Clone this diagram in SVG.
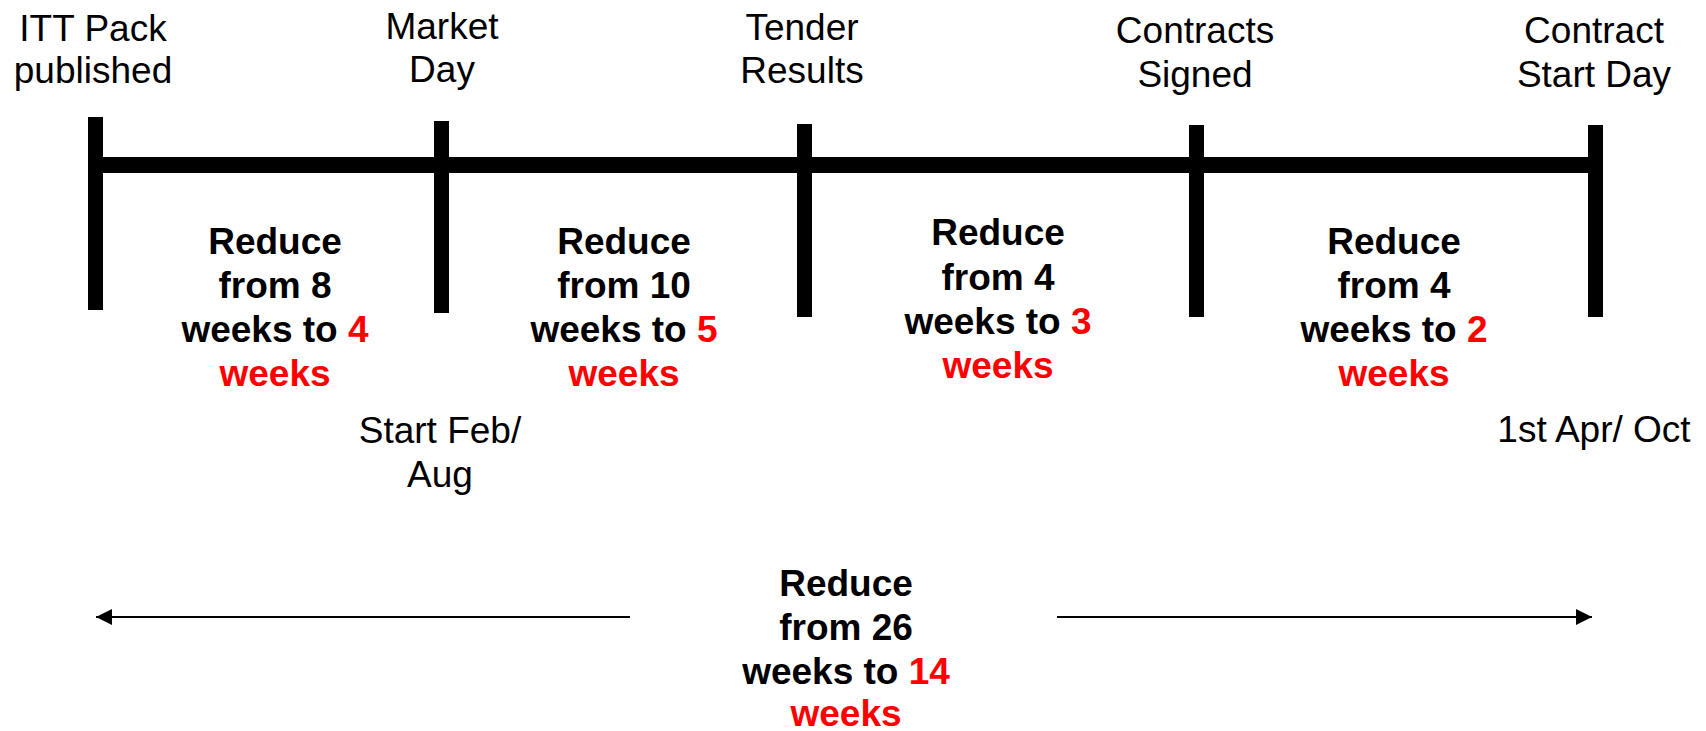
<svg xmlns="http://www.w3.org/2000/svg" width="1706" height="731" viewBox="0 0 1706 731">
<style>
.lbl{font-family:"Liberation Sans",Arial,sans-serif;font-size:37px;fill:#000;text-anchor:middle}
.b{font-family:"Liberation Sans",Arial,sans-serif;font-size:37px;font-weight:bold;fill:#000;text-anchor:middle}
.r{fill:#FF0000}
.bar{fill:#000}
.conn{stroke:#000;stroke-width:2;fill:none}
</style>
<defs>
<marker id="ah" viewBox="0 0 10 10" refX="10" refY="5" markerWidth="8" markerHeight="8" markerUnits="strokeWidth" orient="auto">
<path d="M0,0 L10,5 L0,10 z" fill="#000"/>
</marker>
</defs>
<rect width="1706" height="731" fill="#fff"/>
<g id="timeline">
<rect class="bar" x="88" y="157" width="1515" height="16"/>
</g>
<g id="node-itt">
<rect class="bar" x="88" y="117" width="15" height="193"/>
<text class="lbl" x="93" y="41">ITT Pack</text>
<text class="lbl" x="93" y="83">published</text>
</g>
<g id="node-market">
<rect class="bar" x="434" y="121" width="15" height="192"/>
<text class="lbl" x="442" y="39">Market</text>
<text class="lbl" x="442" y="82">Day</text>
<text class="lbl" x="440" y="443">Start Feb/</text>
<text class="lbl" x="440" y="487">Aug</text>
</g>
<g id="node-tender">
<rect class="bar" x="797" y="124" width="15" height="193"/>
<text class="lbl" x="802" y="40">Tender</text>
<text class="lbl" x="802" y="83">Results</text>
</g>
<g id="node-contracts">
<rect class="bar" x="1189" y="125" width="15" height="192"/>
<text class="lbl" x="1195" y="43">Contracts</text>
<text class="lbl" x="1195" y="87">Signed</text>
</g>
<g id="node-start">
<rect class="bar" x="1588" y="125" width="15" height="192"/>
<text class="lbl" x="1594" y="43">Contract</text>
<text class="lbl" x="1594" y="87">Start Day</text>
<text class="lbl" x="1594" y="442">1st Apr/ Oct</text>
</g>
<g id="seg1">
<text class="b" x="275" y="254">Reduce</text>
<text class="b" x="275" y="298">from 8</text>
<text class="b" x="275" y="342">weeks to <tspan class="r">4</tspan></text>
<text class="b r" x="275" y="386">weeks</text>
</g>
<g id="seg2">
<text class="b" x="624" y="254">Reduce</text>
<text class="b" x="624" y="298">from 10</text>
<text class="b" x="624" y="342">weeks to <tspan class="r">5</tspan></text>
<text class="b r" x="624" y="386">weeks</text>
</g>
<g id="seg3">
<text class="b" x="998" y="245">Reduce</text>
<text class="b" x="998" y="290">from 4</text>
<text class="b" x="998" y="334">weeks to <tspan class="r">3</tspan></text>
<text class="b r" x="998" y="378">weeks</text>
</g>
<g id="seg4">
<text class="b" x="1394" y="254">Reduce</text>
<text class="b" x="1394" y="298">from 4</text>
<text class="b" x="1394" y="342">weeks to <tspan class="r">2</tspan></text>
<text class="b r" x="1394" y="386">weeks</text>
</g>
<g id="total">
<text class="b" x="846" y="596">Reduce</text>
<text class="b" x="846" y="640">from 26</text>
<text class="b" x="846" y="684">weeks to <tspan class="r">14</tspan></text>
<text class="b r" x="846" y="726">weeks</text>
</g>
<g id="connectors">
<line class="conn" x1="630" y1="617" x2="96" y2="617" marker-end="url(#ah)"/>
<line class="conn" x1="1057" y1="617" x2="1592" y2="617" marker-end="url(#ah)"/>
</g>
</svg>
